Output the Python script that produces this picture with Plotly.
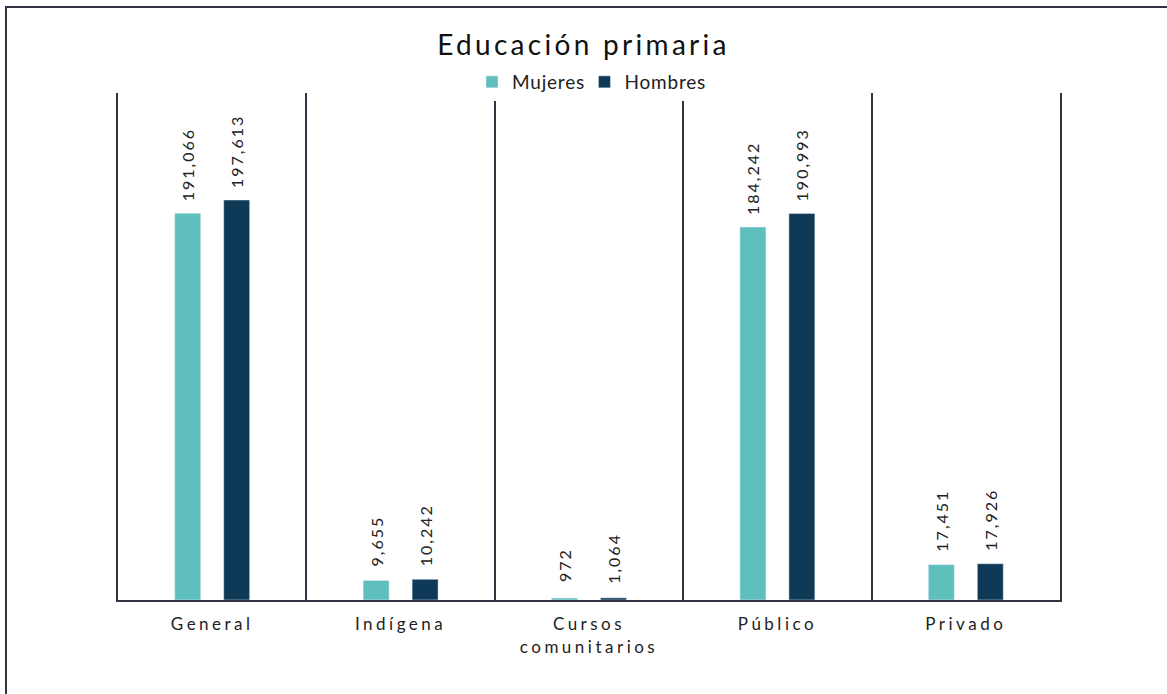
import plotly.graph_objects as go

categories = ["General", "Indígena", "Cursos<br>comunitarios", "Público", "Privado"]
mujeres = [191066, 9655, 972, 184242, 17451]
hombres = [197613, 10242, 1064, 190993, 17926]
series_names = ["Mujeres", "Hombres"]
colors = ["#5fbfbd", "#0f3a57"]

fig = go.Figure()
for name, vals, col in zip(series_names, [mujeres, hombres], colors):
    fig.add_trace(go.Bar(
        x=categories, y=vals, name=name, marker_color=col,
        text=[f"{v:,}" for v in vals], textposition="outside",
        textangle=-90, textfont=dict(size=16, color="#222222"),
        constraintext="none", cliponaxis=False,
    ))

fig.update_layout(
    width=1167, height=694,
    margin=dict(l=118, r=107, t=93, b=94),
    paper_bgcolor="white", plot_bgcolor="white",
    font=dict(family="Lato, sans-serif", color="#222222"),
    title=dict(text="Educación primaria", x=0.5, xanchor="center",
               y=0.935, yanchor="middle", font=dict(size=28, color="#111111")),
    legend=dict(orientation="h", x=0.5, xanchor="center", y=1.0217, yanchor="middle",
                font=dict(size=19), itemwidth=30, traceorder="normal"),
    barmode="group", bargap=0.48, bargroupgap=0.47,
)
fig.update_xaxes(
    tickson="boundaries", showgrid=True, gridcolor="#333344", gridwidth=1.5,
    showline=True, linecolor="#333344", linewidth=2, ticks="",
    ticklabelstandoff=8,
    tickfont=dict(size=17, color="#222222"),
)
fig.update_yaxes(
    range=[0, 250480], showgrid=False, showticklabels=False, zeroline=False,
    showline=True, linecolor="#333344", linewidth=1.5, mirror=True, ticks="",
)
fig.add_shape(type="rect", xref="paper", yref="paper",
              x0=-0.1189, x1=1.117, y0=-0.197, y1=1.1696,
              line=dict(color="#333344", width=2), layer="below")

post = """
document.body.style.margin='0';
function sp(){
  document.querySelectorAll('.gtitle').forEach(function(e){e.style.letterSpacing='3.3px';});
  document.querySelectorAll('.xtick text').forEach(function(e){e.style.letterSpacing='3.5px';});
  document.querySelectorAll('.legendtext').forEach(function(e){e.style.letterSpacing='0.8px';});
  document.querySelectorAll('.bartext').forEach(function(e){
    if (e.dataset.shifted) return;
    e.dataset.shifted = '1';
    e.style.letterSpacing='2px';
    var t = e.getAttribute('transform') || '';
    e.setAttribute('transform', 'translate(0,-16) ' + t);
  });
}
sp();
"""
fig.write_html("out.html", post_script=post, config={"displayModeBar": False})
